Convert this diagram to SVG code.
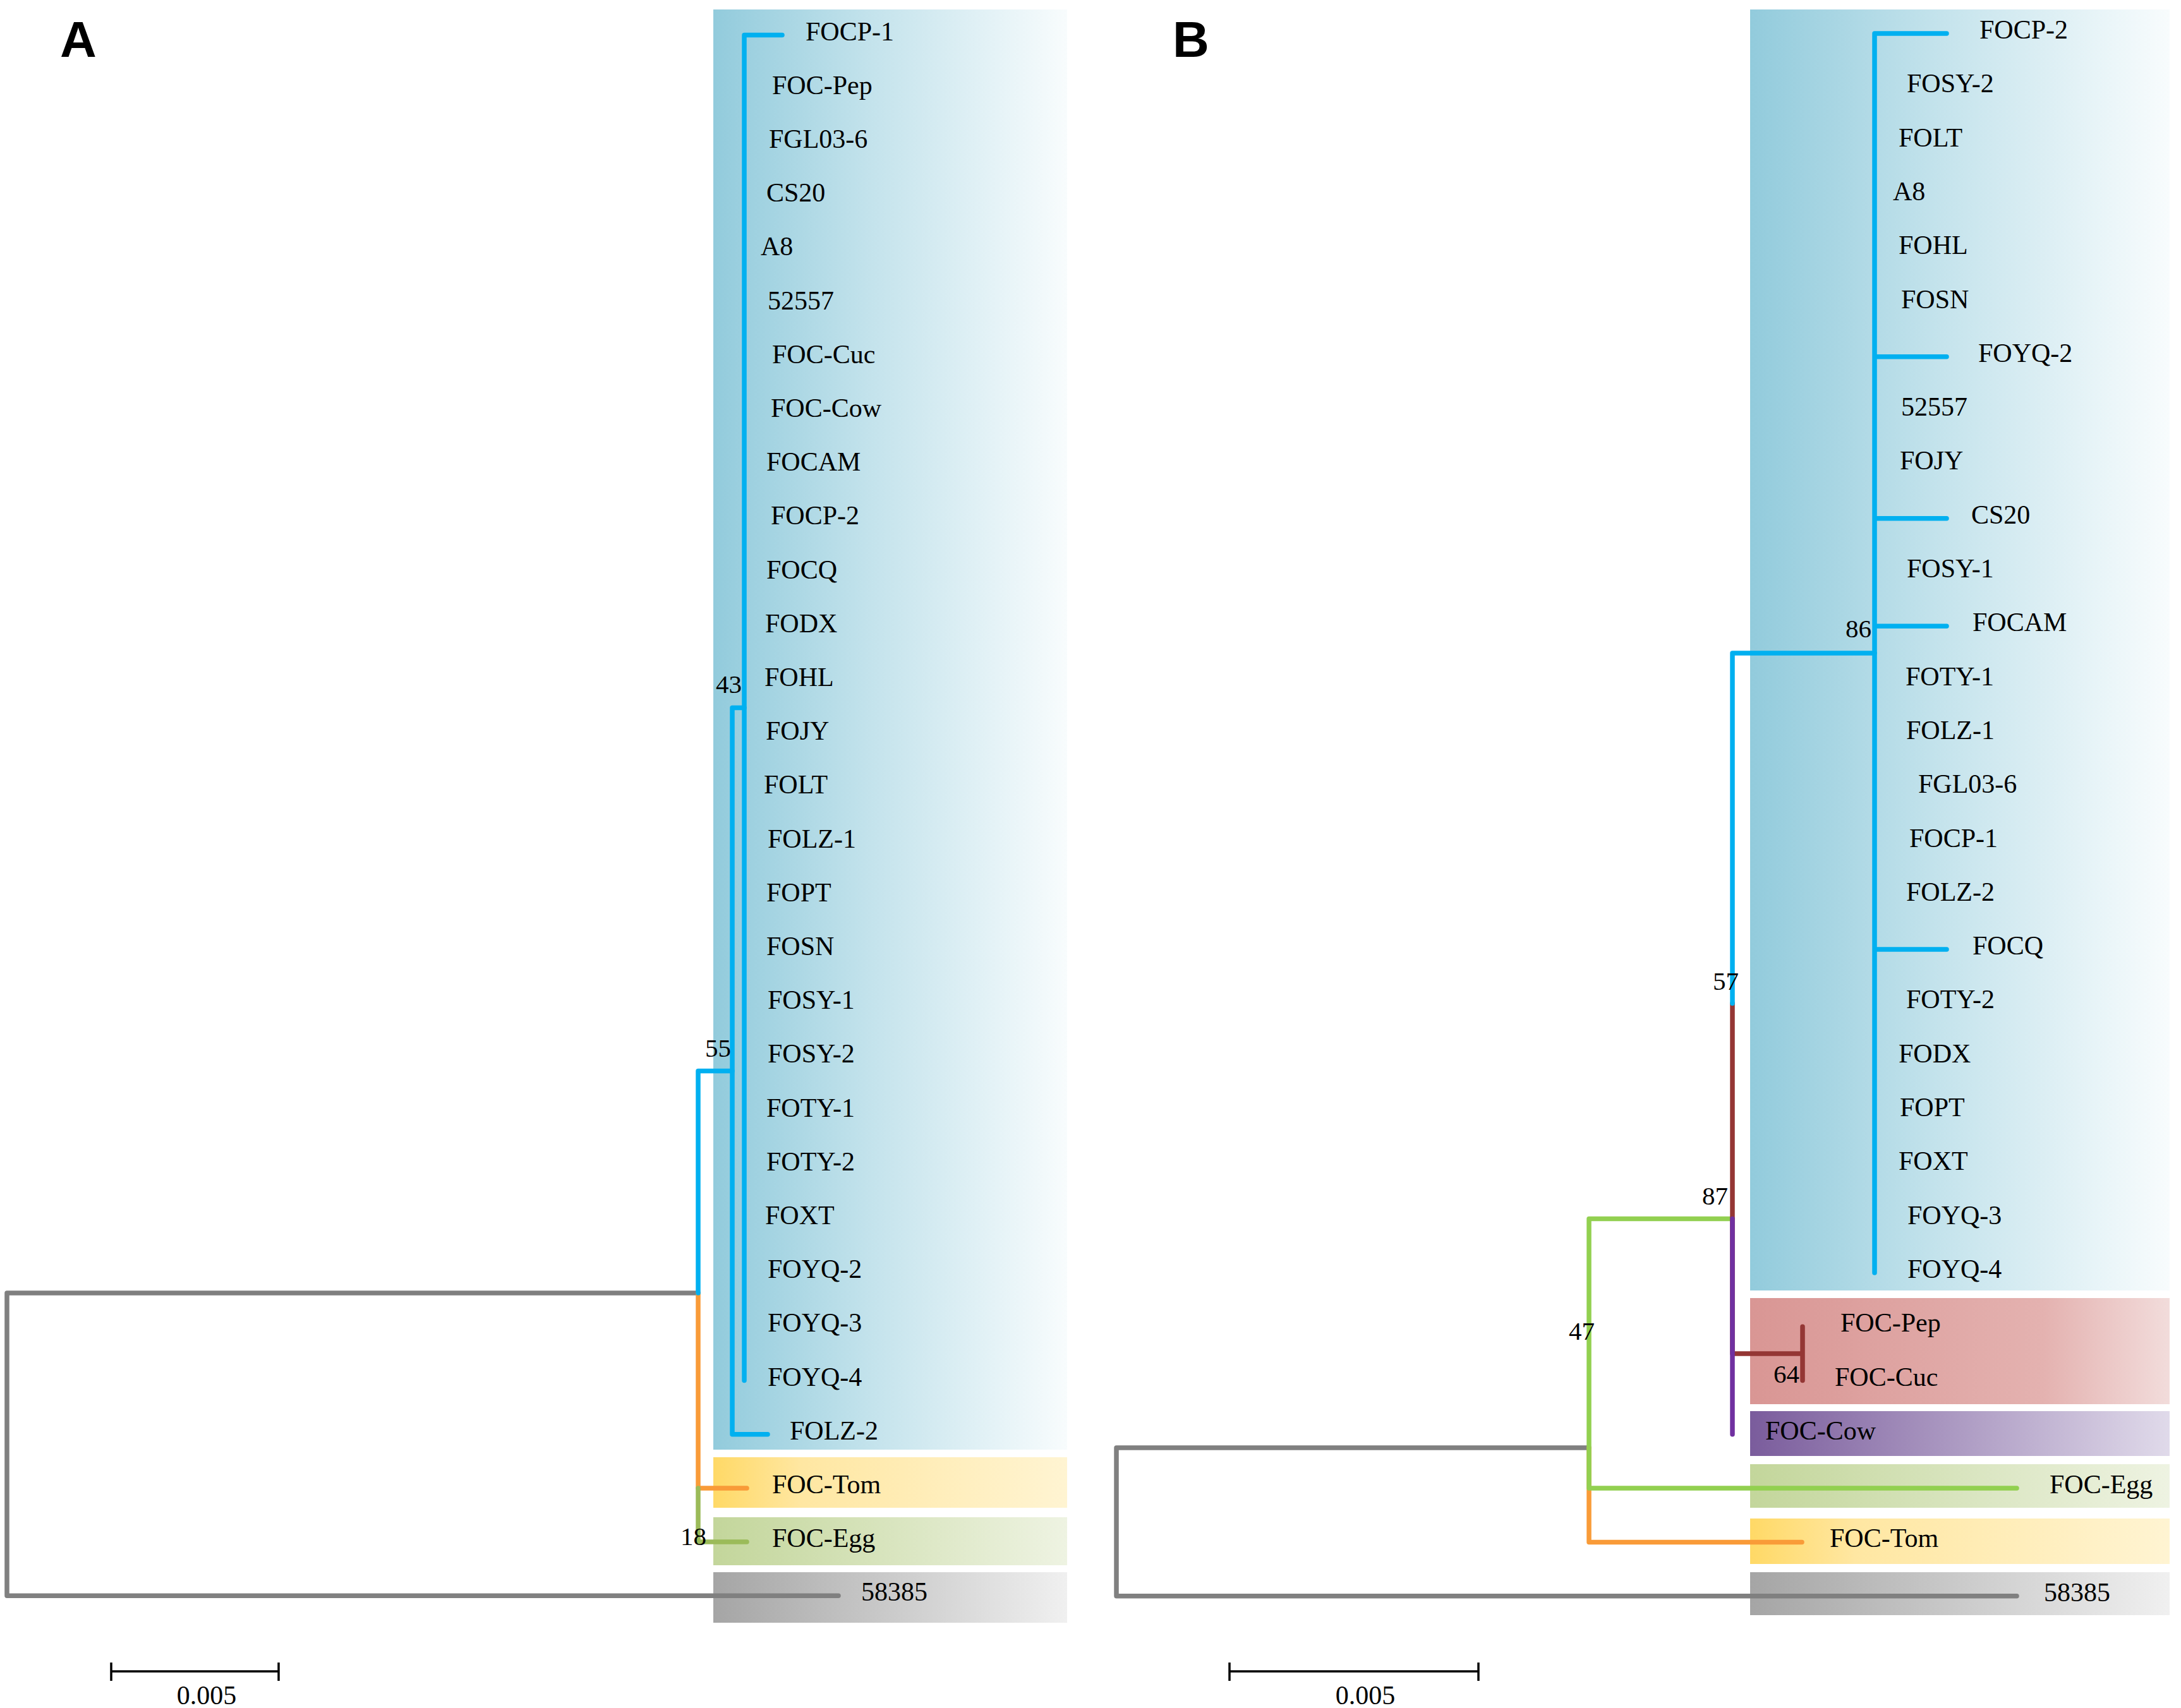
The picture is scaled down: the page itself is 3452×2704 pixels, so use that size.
<svg xmlns="http://www.w3.org/2000/svg" width="3452" height="2704" viewBox="0 0 3452 2704">
<style>
.t{font-family:"Liberation Serif","Times New Roman",serif;font-size:42px;fill:#000}
.n{font-family:"Liberation Serif","Times New Roman",serif;font-size:41px;fill:#000}
.p{font-family:"Liberation Sans",Arial,sans-serif;font-size:80px;font-weight:bold;fill:#000}
.b{fill:none;stroke-width:7.5;stroke-linecap:round;stroke-linejoin:round}
.blue{stroke:#00B0F0}.orange{stroke:#F99B38}.greenA{stroke:#9BBB59}.greenB{stroke:#92D050}
.grey{stroke:#808080}.brown{stroke:#943634}.purple{stroke:#7030A0}
.sb{fill:none;stroke:#000;stroke-width:3.5}
</style>
<defs>
<linearGradient id="gBlue" x1="0" y1="0" x2="1" y2="0"><stop offset="0" stop-color="#92CBDC"/><stop offset="0.45" stop-color="#C4E3EC"/><stop offset="1" stop-color="#F8FCFD"/></linearGradient>
<linearGradient id="gOrange" x1="0" y1="0" x2="1" y2="0"><stop offset="0" stop-color="#FFD966"/><stop offset="0.25" stop-color="#FFE7A2"/><stop offset="1" stop-color="#FFF4D2"/></linearGradient>
<linearGradient id="gGreen" x1="0" y1="0" x2="1" y2="0"><stop offset="0" stop-color="#C3D69B"/><stop offset="1" stop-color="#EEF3E2"/></linearGradient>
<linearGradient id="gGrey" x1="0" y1="0" x2="1" y2="0"><stop offset="0" stop-color="#A5A5A5"/><stop offset="1" stop-color="#F0F0F0"/></linearGradient>
<linearGradient id="gRed" x1="0" y1="0" x2="1" y2="0"><stop offset="0" stop-color="#D99694"/><stop offset="0.7" stop-color="#E4B2B0"/><stop offset="1" stop-color="#F2DCDB"/></linearGradient>
<linearGradient id="gPurple" x1="0" y1="0" x2="1" y2="0"><stop offset="0" stop-color="#7A5C9C"/><stop offset="1" stop-color="#E0DAEA"/></linearGradient>
</defs>
<rect width="3452" height="2704" fill="#FFFFFF"/>

<g id="panel-labels">
<text class="p" x="95" y="90">A</text>
<text class="p" x="1856" y="90">B</text>
</g>

<g id="clade-boxes">
<rect x="1129" y="15" width="560" height="2280" fill="url(#gBlue)"/>
<rect x="1129" y="2307" width="560" height="80" fill="url(#gOrange)"/>
<rect x="1129" y="2402" width="560" height="76" fill="url(#gGreen)"/>
<rect x="1129" y="2489" width="560" height="80" fill="url(#gGrey)"/>
<rect x="2770" y="15" width="664" height="2028" fill="url(#gBlue)"/>
<rect x="2770" y="2055" width="664" height="168" fill="url(#gRed)"/>
<rect x="2770" y="2234" width="664" height="71" fill="url(#gPurple)"/>
<rect x="2770" y="2318" width="664" height="69" fill="url(#gGreen)"/>
<rect x="2770" y="2404" width="664" height="72" fill="url(#gOrange)"/>
<rect x="2770" y="2489" width="664" height="68" fill="url(#gGrey)"/>
</g>

<g id="connectors">
<!-- Panel A -->
<path class="b grey" d="M1105,2047 H11 V2526.3 H1327"/>
<path class="b orange" d="M1105,2047 V2355.9 H1182"/>
<path class="b greenA" d="M1105,2355.9 V2441.1 H1182"/>
<path class="b blue" d="M1105,2047 V1695.6 H1159"/>
<path class="b blue" d="M1178,1120.5 H1159 V2270.7 H1215"/>
<path class="b blue" d="M1238,55.5 H1178 V2185.5"/>
<!-- Panel B -->
<path class="b grey" d="M2515,2292 H1767 V2526.7 H3192"/>
<path class="b orange" d="M2515,2292 V2441.4 H2852"/>
<path class="b greenB" d="M2742,1929.6 H2515 V2356.1 H3192"/>
<path class="b brown" d="M2742,1588.4 V2142.9 H2853 M2853,2100.2 V2185.5"/>
<path class="b purple" d="M2742,1929.6 V2270.8"/>
<path class="b blue" d="M2742,1588.4 V1034 H2967"/>
<path class="b blue" d="M3081,53 H2967 V2014.9 M2967,564.8 H3081 M2967,820.7 H3081 M2967,991.3 H3081 M2967,1503.1 H3081"/>
</g>

<g id="support-values">
<text class="n" x="1133" y="1097">43</text>
<text class="n" x="1116" y="1673">55</text>
<text class="n" x="1077" y="2446">18</text>
<text class="n" x="2921" y="1009">86</text>
<text class="n" x="2711" y="1567">57</text>
<text class="n" x="2694" y="1907">87</text>
<text class="n" x="2807" y="2189">64</text>
<text class="n" x="2483" y="2121">47</text>
</g>

<g id="tree-A-leaves">
<g id="A-FOCP-1"><text class="t" x="1275" y="63.5">FOCP-1</text></g>
<g id="A-FOC-Pep"><text class="t" x="1222" y="148.7">FOC-Pep</text></g>
<g id="A-FGL03-6"><text class="t" x="1217" y="233.9">FGL03-6</text></g>
<g id="A-CS20"><text class="t" x="1213" y="319.1">CS20</text></g>
<g id="A-A8"><text class="t" x="1204" y="404.3">A8</text></g>
<g id="A-52557"><text class="t" x="1215" y="489.5">52557</text></g>
<g id="A-FOC-Cuc"><text class="t" x="1222" y="574.7">FOC-Cuc</text></g>
<g id="A-FOC-Cow"><text class="t" x="1220" y="659.9">FOC-Cow</text></g>
<g id="A-FOCAM"><text class="t" x="1213" y="745.1">FOCAM</text></g>
<g id="A-FOCP-2"><text class="t" x="1220" y="830.3">FOCP-2</text></g>
<g id="A-FOCQ"><text class="t" x="1213" y="915.5">FOCQ</text></g>
<g id="A-FODX"><text class="t" x="1211" y="1000.7">FODX</text></g>
<g id="A-FOHL"><text class="t" x="1210" y="1085.9">FOHL</text></g>
<g id="A-FOJY"><text class="t" x="1212" y="1171.1">FOJY</text></g>
<g id="A-FOLT"><text class="t" x="1209" y="1256.3">FOLT</text></g>
<g id="A-FOLZ-1"><text class="t" x="1215" y="1341.5">FOLZ-1</text></g>
<g id="A-FOPT"><text class="t" x="1213" y="1426.7">FOPT</text></g>
<g id="A-FOSN"><text class="t" x="1213" y="1511.9">FOSN</text></g>
<g id="A-FOSY-1"><text class="t" x="1215" y="1597.1">FOSY-1</text></g>
<g id="A-FOSY-2"><text class="t" x="1215" y="1682.3">FOSY-2</text></g>
<g id="A-FOTY-1"><text class="t" x="1213" y="1767.5">FOTY-1</text></g>
<g id="A-FOTY-2"><text class="t" x="1213" y="1852.7">FOTY-2</text></g>
<g id="A-FOXT"><text class="t" x="1211" y="1937.9">FOXT</text></g>
<g id="A-FOYQ-2"><text class="t" x="1215" y="2023.1">FOYQ-2</text></g>
<g id="A-FOYQ-3"><text class="t" x="1215" y="2108.3">FOYQ-3</text></g>
<g id="A-FOYQ-4"><text class="t" x="1215" y="2193.5">FOYQ-4</text></g>
<g id="A-FOLZ-2"><text class="t" x="1250" y="2278.7">FOLZ-2</text></g>
<g id="A-FOC-Tom"><text class="t" x="1222" y="2363.9">FOC-Tom</text></g>
<g id="A-FOC-Egg"><text class="t" x="1222" y="2449.1">FOC-Egg</text></g>
<g id="A-58385"><text class="t" x="1363" y="2534.3">58385</text></g>
</g>

<g id="tree-B-leaves">
<g id="B-FOCP-2"><text class="t" x="3133" y="61">FOCP-2</text></g>
<g id="B-FOSY-2"><text class="t" x="3018" y="146.3">FOSY-2</text></g>
<g id="B-FOLT"><text class="t" x="3005" y="231.6">FOLT</text></g>
<g id="B-A8"><text class="t" x="2996" y="316.9">A8</text></g>
<g id="B-FOHL"><text class="t" x="3005" y="402.2">FOHL</text></g>
<g id="B-FOSN"><text class="t" x="3009" y="487.5">FOSN</text></g>
<g id="B-FOYQ-2"><text class="t" x="3131" y="572.8">FOYQ-2</text></g>
<g id="B-52557"><text class="t" x="3009" y="658.1">52557</text></g>
<g id="B-FOJY"><text class="t" x="3007" y="743.4">FOJY</text></g>
<g id="B-CS20"><text class="t" x="3120" y="828.7">CS20</text></g>
<g id="B-FOSY-1"><text class="t" x="3018" y="914">FOSY-1</text></g>
<g id="B-FOCAM"><text class="t" x="3122" y="999.3">FOCAM</text></g>
<g id="B-FOTY-1"><text class="t" x="3016" y="1084.6">FOTY-1</text></g>
<g id="B-FOLZ-1"><text class="t" x="3017" y="1169.9">FOLZ-1</text></g>
<g id="B-FGL03-6"><text class="t" x="3036" y="1255.2">FGL03-6</text></g>
<g id="B-FOCP-1"><text class="t" x="3022" y="1340.5">FOCP-1</text></g>
<g id="B-FOLZ-2"><text class="t" x="3017" y="1425.8">FOLZ-2</text></g>
<g id="B-FOCQ"><text class="t" x="3122" y="1511.1">FOCQ</text></g>
<g id="B-FOTY-2"><text class="t" x="3017" y="1596.4">FOTY-2</text></g>
<g id="B-FODX"><text class="t" x="3005" y="1681.7">FODX</text></g>
<g id="B-FOPT"><text class="t" x="3007" y="1767">FOPT</text></g>
<g id="B-FOXT"><text class="t" x="3005" y="1852.3">FOXT</text></g>
<g id="B-FOYQ-3"><text class="t" x="3019" y="1937.6">FOYQ-3</text></g>
<g id="B-FOYQ-4"><text class="t" x="3019" y="2022.9">FOYQ-4</text></g>
<g id="B-FOC-Pep"><text class="t" x="2913" y="2108.2">FOC-Pep</text></g>
<g id="B-FOC-Cuc"><text class="t" x="2904" y="2193.5">FOC-Cuc</text></g>
<g id="B-FOC-Cow"><text class="t" x="2794" y="2278.8">FOC-Cow</text></g>
<g id="B-FOC-Egg"><text class="t" x="3244" y="2364.1">FOC-Egg</text></g>
<g id="B-FOC-Tom"><text class="t" x="2896" y="2449.4">FOC-Tom</text></g>
<g id="B-58385"><text class="t" x="3235" y="2534.7">58385</text></g>
</g>

<g id="scale-bars">
<path class="sb" d="M176,2646 H441 M176,2632 V2661 M441,2632 V2661"/>
<text class="t" x="327" y="2698" text-anchor="middle">0.005</text>
<path class="sb" d="M1946,2646 H2340 M1946,2632 V2661 M2340,2632 V2661"/>
<text class="t" x="2161" y="2698" text-anchor="middle">0.005</text>
</g>
</svg>
